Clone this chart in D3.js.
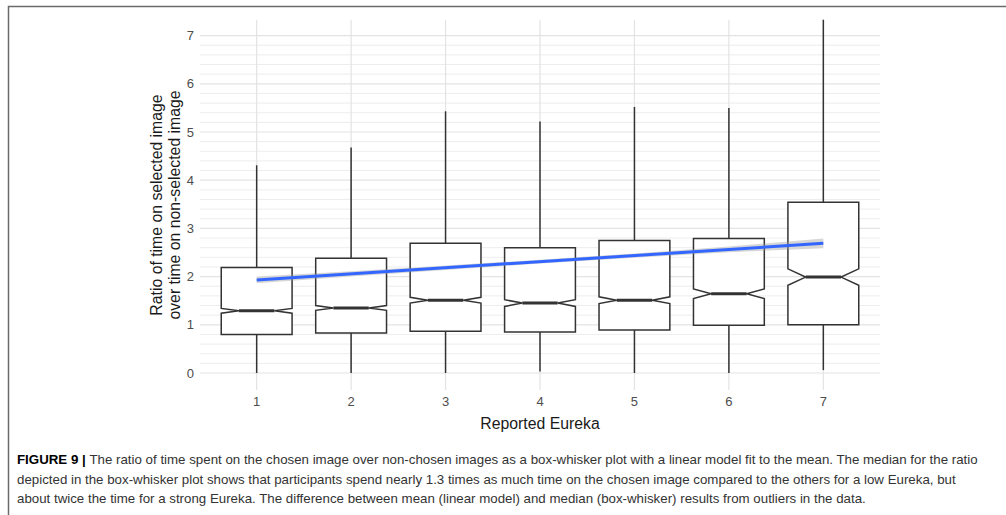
<!DOCTYPE html>
<html>
<head>
<meta charset="utf-8">
<script src="https://cdn.jsdelivr.net/npm/d3@7"></script>
<style>
  body { margin: 0; background: #fff; }
  svg { display: block; font-family: "Liberation Sans", Arial, sans-serif; }
  .grid-minor { stroke: #ededed; stroke-width: 1; }
  .grid-major { stroke: #e3e3e3; stroke-width: 1.2; }
  .tick-label { fill: #4d4d4d; font-size: 13px; }
  .axis-title { fill: #1a1a1a; font-size: 15.8px; }
  .caption { fill: #333; font-size: 13.3px; }
</style>
</head>
<body>
<div id="chart"></div>
<script>
// reported eureka levels
const categories = ["1", "2", "3", "4", "5", "6", "7"];

// box-whisker stats
const whiskerLow  = [0.0, 0.0, 0.0, 0.03, 0.0, 0.0, 0.06];
const q1          = [0.80, 0.83, 0.865, 0.85, 0.89, 0.99, 1.0];
const median      = [1.29, 1.35, 1.51, 1.45, 1.51, 1.645, 1.99];
const q3          = [2.19, 2.38, 2.69, 2.60, 2.75, 2.79, 3.54];
const whiskerHigh = [4.31, 4.68, 5.43, 5.22, 5.52, 5.50, 7.33];
const notchHalf   = [0.05, 0.05, 0.06, 0.07, 0.07, 0.10, 0.17];

// linear model fit to the mean, with its confidence band
const fitEnds  = [1.93, 2.69];
const fitX     = ["1", "7"];
const bandHalf = [0.07, 0.055, 0.045, 0.04, 0.045, 0.06, 0.1];

const yTicks = [0, 1, 2, 3, 4, 5, 6, 7];

const W = 1006, H = 515;
const panel = { left: 200, right: 880, top: 20, bottom: 390 };

const svg = d3.select("#chart").append("svg")
  .attr("width", W).attr("height", H);

// figure frame
svg.append("path")
  .attr("d", "M1010,6.5 H8.5 V520")
  .attr("fill", "none")
  .attr("stroke", "#6b6b6b")
  .attr("stroke-width", 1.5);

// ggplot puts 0.6 of a step outside each end of a discrete axis
const step = (panel.right - panel.left) / 7.2;
const cx = c => panel.left + (categories.indexOf(c) + 0.6) * step;
const boxW = step * 0.75;

const y = d3.scaleLinear()
  .domain([0, 7])
  .range([373, 35.6]);

// horizontal grid: every 0.2, majors on integers
const minor = d3.range(0, 36).map(i => i * 0.2).filter(v => Math.abs(v - Math.round(v)) > 1e-6);
svg.selectAll(".grid-minor")
  .data(minor)
  .enter().append("line")
  .attr("class", "grid-minor")
  .attr("x1", panel.left).attr("x2", panel.right)
  .attr("y1", d => y(d)).attr("y2", d => y(d));

svg.selectAll(".grid-major.h")
  .data(yTicks)
  .enter().append("line")
  .attr("class", "grid-major h")
  .attr("x1", panel.left).attr("x2", panel.right)
  .attr("y1", d => y(d)).attr("y2", d => y(d));

svg.selectAll(".grid-major.v")
  .data(categories)
  .enter().append("line")
  .attr("class", "grid-major v")
  .attr("x1", d => cx(d)).attr("x2", d => cx(d))
  .attr("y1", panel.top).attr("y2", panel.bottom);

// axis labels
svg.selectAll(".ylab")
  .data(yTicks)
  .enter().append("text")
  .attr("class", "tick-label")
  .attr("x", 194)
  .attr("y", d => y(d))
  .attr("dy", "0.36em")
  .attr("text-anchor", "end")
  .text(d => d);

svg.selectAll(".xlab")
  .data(categories)
  .enter().append("text")
  .attr("class", "tick-label")
  .attr("x", d => cx(d))
  .attr("y", 406)
  .attr("text-anchor", "middle")
  .text(d => d);

svg.append("text")
  .attr("class", "axis-title")
  .attr("x", cx("4"))
  .attr("y", 429)
  .attr("text-anchor", "middle")
  .text("Reported Eureka");

const yTitle = svg.append("text")
  .attr("class", "axis-title")
  .attr("transform", "translate(162," + ((panel.top + panel.bottom) / 2) + ") rotate(-90)")
  .attr("text-anchor", "middle");
yTitle.append("tspan").attr("x", 0).attr("dy", 0).text("Ratio of time on selected image");
yTitle.append("tspan").attr("x", 0).attr("dy", 18).text("over time on non-selected image");

// boxes
const boxes = categories.map((c, i) => ({
  c, lo: whiskerLow[i], q1: q1[i], med: median[i], q3: q3[i], hi: whiskerHigh[i], n: notchHalf[i]
}));

const g = svg.append("g").attr("class", "boxes");

g.selectAll(".whisker-up")
  .data(boxes)
  .enter().append("line")
  .attr("x1", d => cx(d.c)).attr("x2", d => cx(d.c))
  .attr("y1", d => y(d.q3)).attr("y2", d => y(d.hi))
  .attr("stroke", "#333").attr("stroke-width", 1.5);

g.selectAll(".whisker-down")
  .data(boxes)
  .enter().append("line")
  .attr("x1", d => cx(d.c)).attr("x2", d => cx(d.c))
  .attr("y1", d => y(d.q1)).attr("y2", d => y(d.lo))
  .attr("stroke", "#333").attr("stroke-width", 1.5);

function notchPath(d) {
  const l = cx(d.c) - boxW / 2, r = cx(d.c) + boxW / 2;
  const nl = cx(d.c) - boxW / 4, nr = cx(d.c) + boxW / 4;
  const pts = [
    [l, y(d.q3)], [r, y(d.q3)], [r, y(d.med + d.n)], [nr, y(d.med)],
    [r, y(d.med - d.n)], [r, y(d.q1)], [l, y(d.q1)], [l, y(d.med - d.n)],
    [nl, y(d.med)], [l, y(d.med + d.n)]
  ];
  return d3.line()(pts) + "Z";
}

g.selectAll(".box")
  .data(boxes)
  .enter().append("path")
  .attr("class", "box")
  .attr("d", notchPath)
  .attr("fill", "#fff")
  .attr("stroke", "#333")
  .attr("stroke-width", 1.5);

g.selectAll(".median")
  .data(boxes)
  .enter().append("line")
  .attr("x1", d => cx(d.c) - boxW / 4).attr("x2", d => cx(d.c) + boxW / 4)
  .attr("y1", d => y(d.med)).attr("y2", d => y(d.med))
  .attr("stroke", "#333").attr("stroke-width", 3);

// linear fit and confidence band
const fitSlope = (fitEnds[1] - fitEnds[0]) / 6;
const band = categories.map((c, i) => {
  const m = fitEnds[0] + fitSlope * i;
  return { c, lo: m - bandHalf[i], hi: m + bandHalf[i] };
});

svg.append("path")
  .datum(band)
  .attr("d", d3.area().x(d => cx(d.c)).y0(d => y(d.lo)).y1(d => y(d.hi)))
  .attr("fill", "#999")
  .attr("opacity", 0.4);

svg.append("path")
  .datum(fitX.map((c, i) => ({ c, v: fitEnds[i] })))
  .attr("d", d3.line().x(d => cx(d.c)).y(d => y(d.v)))
  .attr("stroke", "#3366ff")
  .attr("stroke-width", 3)
  .attr("fill", "none");

// caption
const captionLines = [
  [["FIGURE 9 | ", true], ["The ratio of time spent on the chosen image over non-chosen images as a box-whisker plot with a linear model fit to the mean. The median for the ratio", false]],
  [["depicted in the box-whisker plot shows that participants spend nearly 1.3 times as much time on the chosen image compared to the others for a low Eureka, but", false]],
  [["about twice the time for a strong Eureka. The difference between mean (linear model) and median (box-whisker) results from outliers in the data.", false]]
];

svg.selectAll(".caption")
  .data(captionLines)
  .enter().append("text")
  .attr("class", "caption")
  .attr("x", 17)
  .attr("y", (d, i) => 464 + i * 19.5)
  .each(function (parts) {
    const t = d3.select(this);
    parts.forEach(p => {
      t.append("tspan")
        .attr("font-weight", p[1] ? "bold" : null)
        .attr("fill", p[1] ? "#000" : null)
        .text(p[0]);
    });
  });
</script>
</body>
</html>
